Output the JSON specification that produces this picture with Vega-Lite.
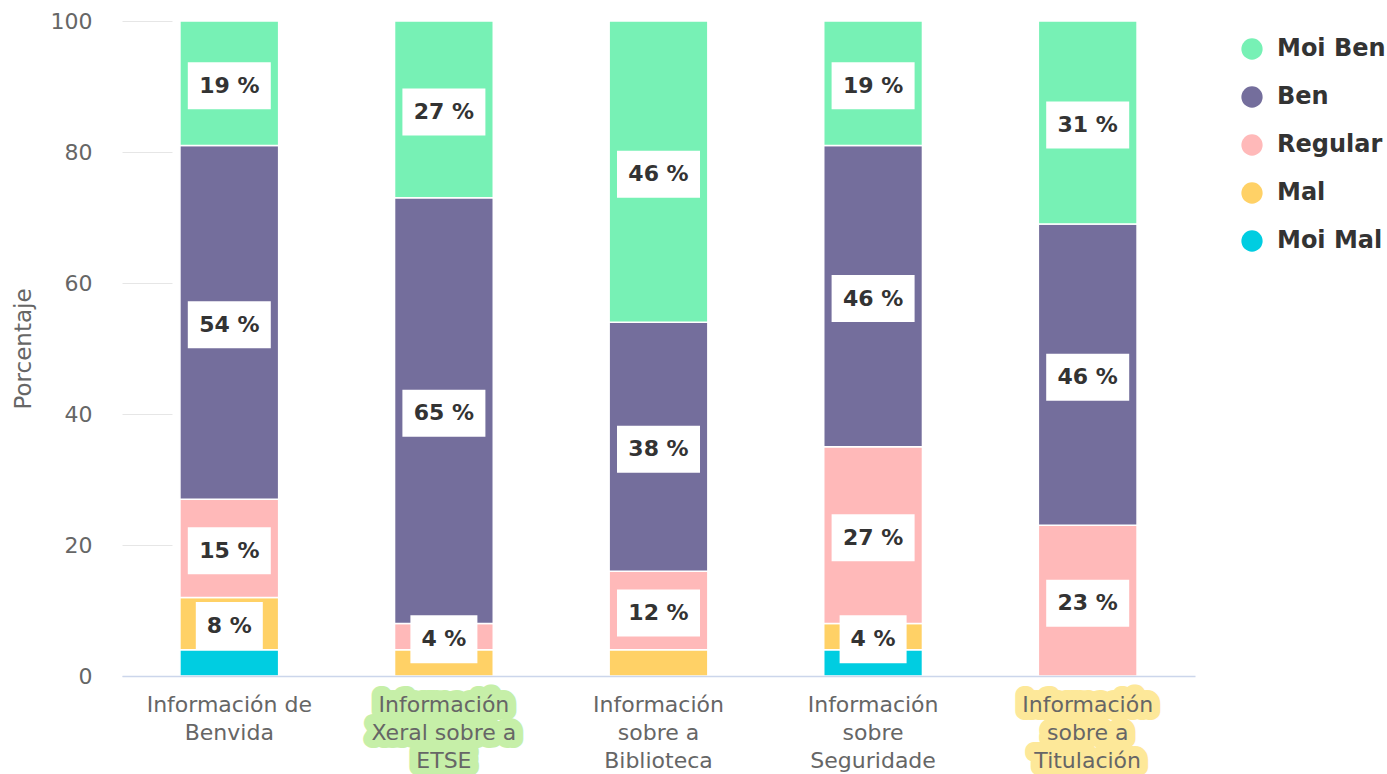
{
  "$schema": "https://vega.github.io/schema/vega-lite/v6.json",
  "width": 1073,
  "height": 655,
  "autosize": {"type": "none"},
  "padding": {"left": 122, "top": 21, "right": 192, "bottom": 98},
  "background": "white",
  "config": {"font": "DejaVu Sans", "view": {"stroke": null}},
  "datasets": {
    "valores": [
      {"categoria": "Información de Benvida", "valoracion": "Moi Mal", "orde": 1, "pct": 4},
      {"categoria": "Información de Benvida", "valoracion": "Mal", "orde": 2, "pct": 8},
      {"categoria": "Información de Benvida", "valoracion": "Regular", "orde": 3, "pct": 15},
      {"categoria": "Información de Benvida", "valoracion": "Ben", "orde": 4, "pct": 54},
      {"categoria": "Información de Benvida", "valoracion": "Moi Ben", "orde": 5, "pct": 19},
      {"categoria": "Información Xeral sobre a ETSE", "valoracion": "Mal", "orde": 2, "pct": 4},
      {"categoria": "Información Xeral sobre a ETSE", "valoracion": "Regular", "orde": 3, "pct": 4},
      {"categoria": "Información Xeral sobre a ETSE", "valoracion": "Ben", "orde": 4, "pct": 65},
      {"categoria": "Información Xeral sobre a ETSE", "valoracion": "Moi Ben", "orde": 5, "pct": 27},
      {"categoria": "Información sobre a Biblioteca", "valoracion": "Mal", "orde": 2, "pct": 4},
      {"categoria": "Información sobre a Biblioteca", "valoracion": "Regular", "orde": 3, "pct": 12},
      {"categoria": "Información sobre a Biblioteca", "valoracion": "Ben", "orde": 4, "pct": 38},
      {"categoria": "Información sobre a Biblioteca", "valoracion": "Moi Ben", "orde": 5, "pct": 46},
      {"categoria": "Información sobre Seguridade", "valoracion": "Moi Mal", "orde": 1, "pct": 4},
      {"categoria": "Información sobre Seguridade", "valoracion": "Mal", "orde": 2, "pct": 4},
      {"categoria": "Información sobre Seguridade", "valoracion": "Regular", "orde": 3, "pct": 27},
      {"categoria": "Información sobre Seguridade", "valoracion": "Ben", "orde": 4, "pct": 46},
      {"categoria": "Información sobre Seguridade", "valoracion": "Moi Ben", "orde": 5, "pct": 19},
      {"categoria": "Información sobre a Titulación", "valoracion": "Regular", "orde": 3, "pct": 23},
      {"categoria": "Información sobre a Titulación", "valoracion": "Ben", "orde": 4, "pct": 46},
      {"categoria": "Información sobre a Titulación", "valoracion": "Moi Ben", "orde": 5, "pct": 31}
    ],
    "destacados": [
      {"categoria": "Información Xeral sobre a ETSE", "texto": "Información\nXeral sobre a\nETSE"},
      {"categoria": "Información sobre a Titulación", "texto": "Información\nsobre a\nTitulación"}
    ]
  },
  "encoding": {
    "x": {
      "field": "categoria", "type": "nominal",
      "scale": {"domain": ["Información de Benvida", "Información Xeral sobre a ETSE", "Información sobre a Biblioteca", "Información sobre Seguridade", "Información sobre a Titulación"], "paddingInner": 0.54, "paddingOuter": 0.27},
      "axis": {
        "title": null, "labelAngle": 0, "ticks": false, "domainColor": "#ccd6eb", "domainWidth": 1.5,
        "labelFont": "DejaVu Sans", "labelFontSize": 22, "labelColor": "#666666", "labelPadding": 18, "labelLineHeight": 28, "labelLimit": 400, "zindex": 1,
        "labelExpr": "datum.label == 'Información de Benvida' ? ['Información de','Benvida'] : datum.label == 'Información Xeral sobre a ETSE' ? ['Información','Xeral sobre a','ETSE'] : datum.label == 'Información sobre a Biblioteca' ? ['Información','sobre a','Biblioteca'] : datum.label == 'Información sobre Seguridade' ? ['Información','sobre','Seguridade'] : ['Información','sobre a','Titulación']"
      }
    }
  },
  "layer": [
    {
      "data": {"name": "destacados"},
      "mark": {"type": "text", "font": "DejaVu Sans", "fontSize": 22, "lineHeight": 28, "lineBreak": "\n", "baseline": "top", "align": "center", "yOffset": 18, "strokeWidth": 18, "strokeJoin": "round", "strokeCap": "round"},
      "encoding": {
        "y": {
          "datum": 0, "type": "quantitative",
          "scale": {"domain": [0, 100], "nice": false},
          "axis": {
            "title": "Porcentaje", "values": [0, 20, 40, 60, 80, 100], "domain": false, "grid": false,
            "ticks": true, "tickSize": 50, "tickColor": "#e6e6e6", "tickWidth": 1, "offset": -50,
            "labelPadding": 30, "labelFont": "DejaVu Sans", "labelFontSize": 22, "labelColor": "#666666",
            "titleFont": "DejaVu Sans", "titleFontSize": 23, "titleColor": "#666666", "titleFontWeight": "normal", "titlePadding": 15
          }
        },
        "text": {"field": "texto"},
        "fill": {"condition": {"test": "datum.categoria == 'Información Xeral sobre a ETSE'", "value": "#c6efa8"}, "value": "#fde899"},
        "stroke": {"condition": {"test": "datum.categoria == 'Información Xeral sobre a ETSE'", "value": "#c6efa8"}, "value": "#fde899"}
      }
    },
    {
      "data": {"name": "valores"},
      "mark": {"type": "bar", "stroke": "white", "strokeWidth": 1.5},
      "encoding": {
        "y": {
          "field": "pct", "type": "quantitative", "stack": "zero",
          "scale": {"domain": [0, 100], "nice": false},
          "axis": {
            "title": "Porcentaje", "values": [0, 20, 40, 60, 80, 100], "domain": false, "grid": false,
            "ticks": true, "tickSize": 50, "tickColor": "#e6e6e6", "tickWidth": 1, "offset": -50,
            "labelPadding": 30, "labelFont": "DejaVu Sans", "labelFontSize": 22, "labelColor": "#666666",
            "titleFont": "DejaVu Sans", "titleFontSize": 23, "titleColor": "#666666", "titleFontWeight": "normal", "titlePadding": 15
          }
        },
        "color": {
          "field": "valoracion", "type": "nominal",
          "scale": {"domain": ["Moi Ben", "Ben", "Regular", "Mal", "Moi Mal"], "range": ["#77f1b5", "#746e9c", "#ffb9b9", "#ffd166", "#00cde1"]},
          "legend": {
            "title": null, "orient": "none", "legendX": 1118, "legendY": 16, "padding": 0,
            "symbolType": "circle", "symbolSize": 452, "symbolStrokeWidth": 0, "symbolOpacity": 1,
            "labelFont": "DejaVu Sans", "labelFontSize": 24, "labelFontWeight": "bold", "labelColor": "#333333",
            "labelOffset": 13, "rowPadding": 24, "labelLimit": 300
          }
        },
        "order": {"field": "orde", "type": "quantitative"}
      }
    },
    {
      "data": {"name": "valores"},
      "encoding": {
        "y": {
          "field": "pct", "type": "quantitative", "stack": "zero", "bandPosition": 0.5,
          "scale": {"domain": [0, 100], "nice": false},
          "axis": {
            "title": "Porcentaje", "values": [0, 20, 40, 60, 80, 100], "domain": false, "grid": false,
            "ticks": true, "tickSize": 50, "tickColor": "#e6e6e6", "tickWidth": 1, "offset": -50,
            "labelPadding": 30, "labelFont": "DejaVu Sans", "labelFontSize": 22, "labelColor": "#666666",
            "titleFont": "DejaVu Sans", "titleFontSize": 23, "titleColor": "#666666", "titleFontWeight": "normal", "titlePadding": 15
          }
        },
        "detail": {"field": "valoracion"},
        "order": {"field": "orde", "type": "quantitative"},
        "opacity": {"condition": {"test": "datum.pct_start == 0 && datum.pct < 5", "value": 0}, "value": 1}
      },
      "layer": [
        {
          "mark": {"type": "point", "filled": true, "fill": "white", "strokeWidth": 0, "yOffset": 2.5},
          "encoding": {
            "shape": {"condition": {"test": "datum.pct < 10", "value": "M-1,-0.716L1,-0.716L1,0.716L-1,0.716Z"}, "value": "M-1,-0.566L1,-0.566L1,0.566L-1,0.566Z"},
            "size": {"condition": {"test": "datum.pct < 10", "value": 4489}, "value": 6889}
          }
        },
        {
          "mark": {"type": "text", "font": "DejaVu Sans", "fontWeight": "bold", "fontSize": 22, "color": "#333333", "baseline": "middle", "align": "center", "yOffset": 2.5, "text": {"expr": "datum.pct + ' %'"}}
        }
      ]
    }
  ]
}
